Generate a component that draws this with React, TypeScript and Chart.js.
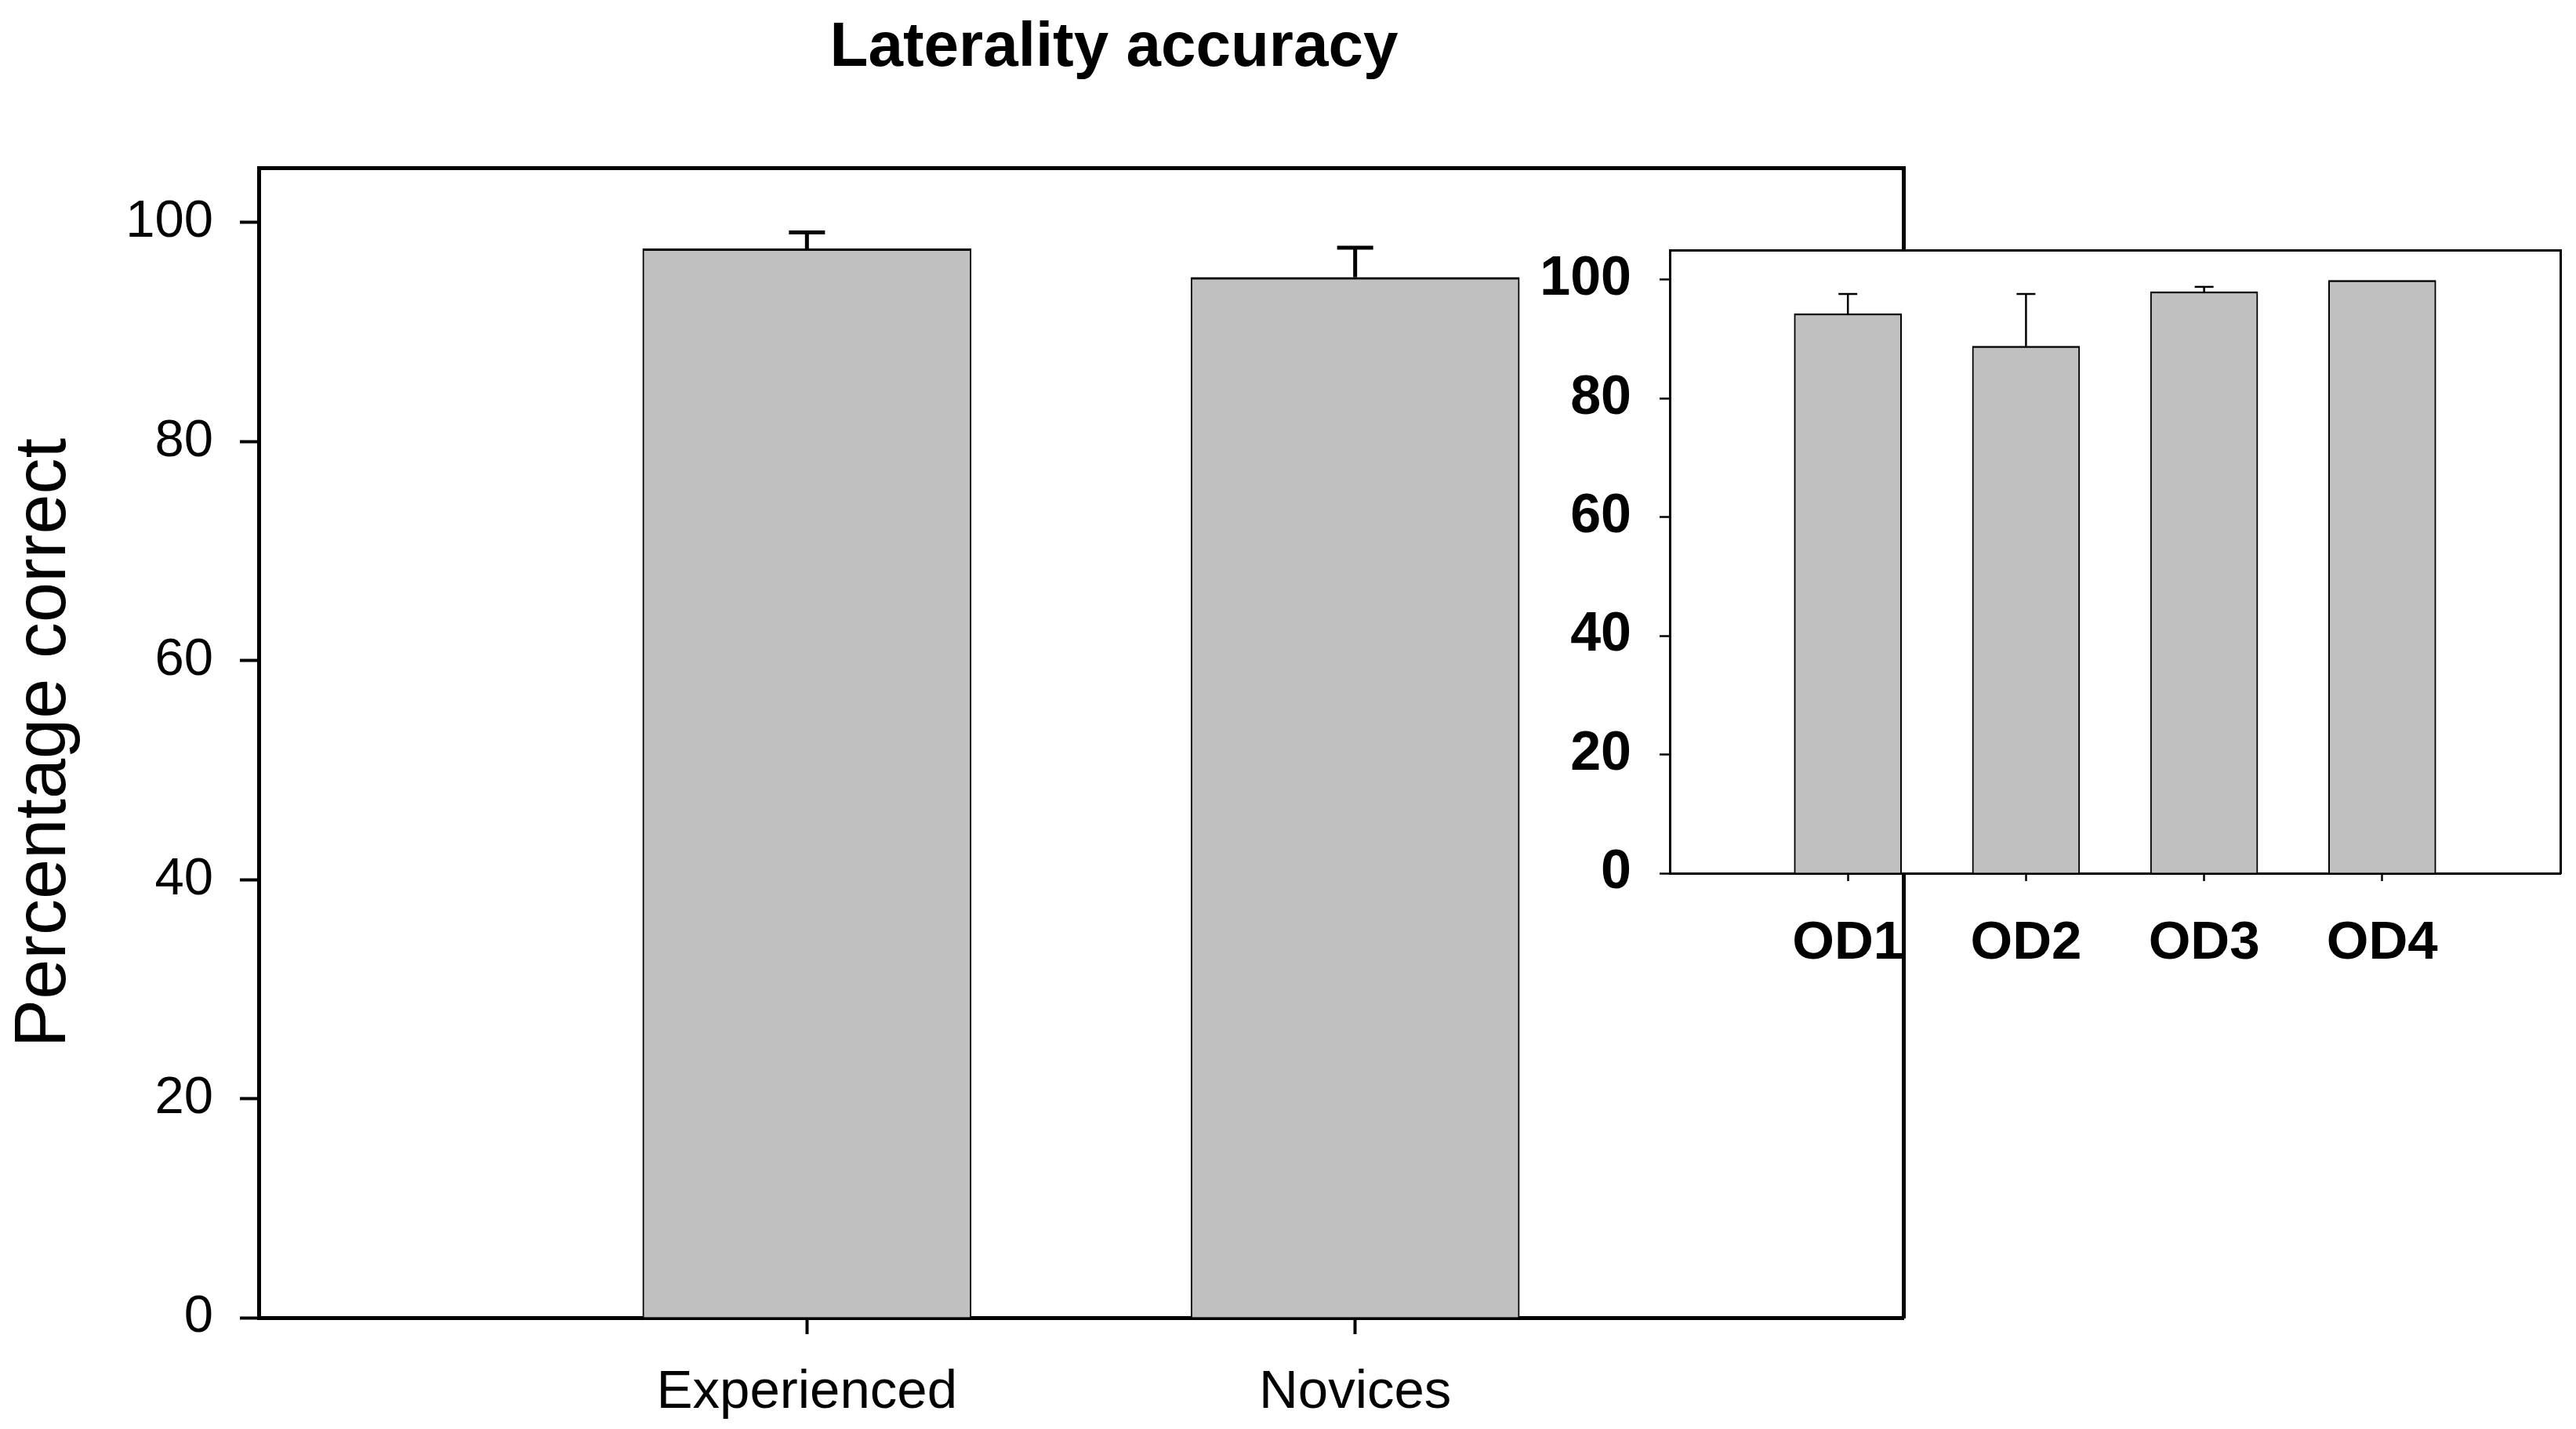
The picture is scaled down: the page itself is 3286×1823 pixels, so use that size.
import React, { useEffect, useRef } from 'react';
import { Chart, registerables } from 'chart.js';

Chart.register(...registerables);

// ---------- data ----------
const mainTitle = 'Laterality accuracy';
const yAxisTitle = 'Percentage correct';
const mainCategories = ['', 'Experienced', 'Novices', ''];
const mainMeans: (number | null)[] = [null, 97.6, 95.0, null];
const mainErrors: (number | null)[] = [null, 1.5, 2.7, null];
const mainYTicks = [0, 20, 40, 60, 80, 100];
const mainYMax = 105;

const insetCategories = ['', 'OD1', 'OD2', 'OD3', 'OD4', ''];
const insetMeans: (number | null)[] = [null, 94.3, 88.8, 98.0, 99.9, null];
const insetErrors: (number | null)[] = [null, 3.3, 8.8, 0.8, 0, null];
const insetYTicks = [0, 20, 40, 60, 80, 100];
const insetYMax = 105;

const FONT = "'Liberation Sans', Arial, sans-serif";

function makeErrorPlugin(errors: (number | null)[], stemWidth: number, capWidth: number, capHalf: number) {
  return {
    id: 'errorBars',
    afterDatasetsDraw(chart: any) {
      const { ctx } = chart;
      const meta = chart.getDatasetMeta(0);
      const yScale = chart.scales.y;
      const values = chart.data.datasets[0].data as (number | null)[];
      meta.data.forEach((bar: any, i: number) => {
        const m = values[i];
        const e = errors[i];
        if (m == null || !e) return;
        const x = bar.x;
        const y0 = yScale.getPixelForValue(m);
        const y1 = yScale.getPixelForValue(m + e);
        ctx.save();
        ctx.strokeStyle = '#000';
        ctx.lineCap = 'butt';
        ctx.lineWidth = stemWidth;
        ctx.beginPath();
        ctx.moveTo(x, y0);
        ctx.lineTo(x, y1);
        ctx.stroke();
        ctx.lineWidth = capWidth;
        ctx.beginPath();
        ctx.moveTo(x - capHalf, y1);
        ctx.lineTo(x + capHalf, y1);
        ctx.stroke();
        ctx.restore();
      });
    },
  };
}

const whiteAreaPlugin = {
  id: 'whiteArea',
  beforeDraw(chart: any) {
    const { ctx, chartArea } = chart;
    ctx.save();
    ctx.fillStyle = '#ffffff';
    ctx.fillRect(chartArea.left, chartArea.top, chartArea.right - chartArea.left, chartArea.bottom - chartArea.top);
    ctx.restore();
  },
};

function noOverflow(s: any) {
  s.paddingTop = 0;
  s.paddingBottom = 0;
  s.paddingLeft = 0;
  s.paddingRight = 0;
}

function frameAxis(position: 'top' | 'right', width: number) {
  return {
    type: 'linear',
    position,
    display: true,
    grid: { display: false, drawTicks: false },
    ticks: { display: false },
    border: { display: true, color: '#000', width },
    afterFit: (s: any) => {
      if (position === 'top') s.height = 0;
      else s.width = 0;
      noOverflow(s);
    },
    z: 1,
  };
}

function MainChart() {
  const ref = useRef<HTMLCanvasElement | null>(null);
  useEffect(() => {
    if (!ref.current) return;
    const chart = new Chart(ref.current, {
      type: 'bar',
      data: {
        labels: mainCategories,
        datasets: [
          {
            data: mainMeans as any,
            backgroundColor: '#c0c0c0',
            borderColor: '#000',
            borderWidth: { top: 3, left: 2, right: 2, bottom: 0 } as any,
            borderSkipped: false as any,
            barThickness: 419,
          },
        ],
      },
      options: {
        animation: false,
        responsive: false,
        devicePixelRatio: 1,
        events: [],
        layout: { padding: { left: 0, right: 858, top: 214, bottom: 0 } },
        plugins: { legend: { display: false }, tooltip: { enabled: false }, title: { display: false } },
        scales: {
          x: {
            type: 'category',
            offset: false,
            z: 1,
            grid: {
              display: true,
              offset: false,
              drawOnChartArea: false,
              drawTicks: true,
              tickLength: 21,
              tickWidth: 4,
              tickColor: (c: any) => (c.tick && mainCategories[c.tick.value] ? '#000' : 'rgba(0,0,0,0)'),
            },
            border: { display: true, color: '#000', width: 5 },
            ticks: {
              color: '#000',
              padding: 34,
              maxRotation: 0,
              autoSkip: false,
              font: { family: FONT, size: 69 },
            },
            afterFit: (s: any) => {
              s.height = 142;
              noOverflow(s);
            },
          },
          y: {
            type: 'linear',
            min: 0,
            max: mainYMax,
            z: 1,
            grid: {
              display: true,
              drawOnChartArea: false,
              drawTicks: true,
              tickLength: 24,
              tickWidth: 4,
              tickColor: '#000',
            },
            border: { display: true, color: '#000', width: 5 },
            ticks: {
              color: '#000',
              padding: 34,
              includeBounds: false,
              font: { family: FONT, size: 67 },
            },
            afterBuildTicks: (s: any) => {
              s.ticks = mainYTicks.map((v) => ({ value: v }));
            },
            title: {
              display: true,
              text: yAxisTitle,
              color: '#000',
              font: { family: FONT, size: 92 },
              padding: { top: 2, bottom: 0 },
            },
            afterFit: (s: any) => {
              s.width = 330;
              noOverflow(s);
            },
          },
          x2: frameAxis('top', 5) as any,
          y2: frameAxis('right', 5) as any,
        },
      } as any,
      plugins: [makeErrorPlugin(mainErrors, 5, 5, 23)],
    });
    return () => chart.destroy();
  }, []);
  return (
    <canvas
      ref={ref}
      width={3286}
      height={1823}
      style={{ position: 'absolute', left: 0, top: 0, width: 3286, height: 1823 }}
    />
  );
}

function InsetChart() {
  const ref = useRef<HTMLCanvasElement | null>(null);
  useEffect(() => {
    if (!ref.current) return;
    const chart = new Chart(ref.current, {
      type: 'bar',
      data: {
        labels: insetCategories,
        datasets: [
          {
            data: insetMeans as any,
            backgroundColor: '#c0c0c0',
            borderColor: '#000',
            borderWidth: { top: 2.5, left: 2, right: 2, bottom: 0 } as any,
            borderSkipped: false as any,
            barThickness: 137,
          },
        ],
      },
      options: {
        animation: false,
        responsive: false,
        devicePixelRatio: 1,
        events: [],
        layout: { padding: { left: 0, right: 20, top: 69, bottom: 0 } },
        plugins: { legend: { display: false }, tooltip: { enabled: false }, title: { display: false } },
        scales: {
          x: {
            type: 'category',
            offset: false,
            z: 1,
            grid: {
              display: true,
              offset: false,
              drawOnChartArea: false,
              drawTicks: true,
              tickLength: 10,
              tickWidth: 2.5,
              tickColor: (c: any) => (c.tick && insetCategories[c.tick.value] ? '#000' : 'rgba(0,0,0,0)'),
            },
            border: { display: true, color: '#000', width: 3 },
            ticks: {
              color: '#000',
              padding: 39,
              maxRotation: 0,
              autoSkip: false,
              font: { family: FONT, size: 69, weight: 'bold' },
            },
            afterFit: (s: any) => {
              s.height = 186;
              noOverflow(s);
            },
          },
          y: {
            type: 'linear',
            min: 0,
            max: insetYMax,
            z: 1,
            grid: {
              display: true,
              drawOnChartArea: false,
              drawTicks: true,
              tickLength: 13,
              tickWidth: 2.5,
              tickColor: '#000',
            },
            border: { display: true, color: '#000', width: 3 },
            ticks: {
              color: '#000',
              padding: 36,
              includeBounds: false,
              font: { family: FONT, size: 70, weight: 'bold' },
            },
            afterBuildTicks: (s: any) => {
              s.ticks = insetYTicks.map((v) => ({ value: v }));
            },
            afterFit: (s: any) => {
              s.width = 230;
              noOverflow(s);
            },
          },
          x2: frameAxis('top', 3) as any,
          y2: frameAxis('right', 3) as any,
        },
      } as any,
      plugins: [whiteAreaPlugin, makeErrorPlugin(insetErrors, 2.5, 2.5, 12)],
    });
    return () => chart.destroy();
  }, []);
  return (
    <canvas
      ref={ref}
      width={1386}
      height={1050}
      style={{ position: 'absolute', left: 1900, top: 250, width: 1386, height: 1050 }}
    />
  );
}

export default function App() {
  useEffect(() => {
    document.body.style.margin = '0';
    document.body.style.overflow = 'hidden';
  }, []);
  return (
    <div
      style={{
        position: 'absolute',
        left: 0,
        top: 0,
        width: 3286,
        height: 1823,
        background: '#ffffff',
        overflow: 'hidden',
      }}
    >
      <MainChart />
      <InsetChart />
      <div
        style={{
          position: 'absolute',
          left: 0,
          top: 9,
          width: 2842,
          textAlign: 'center',
          fontFamily: FONT,
          fontWeight: 'bold',
          fontSize: 80,
          lineHeight: '96px',
          color: '#000',
          whiteSpace: 'nowrap',
        }}
      >
        {mainTitle}
      </div>
    </div>
  );
}
